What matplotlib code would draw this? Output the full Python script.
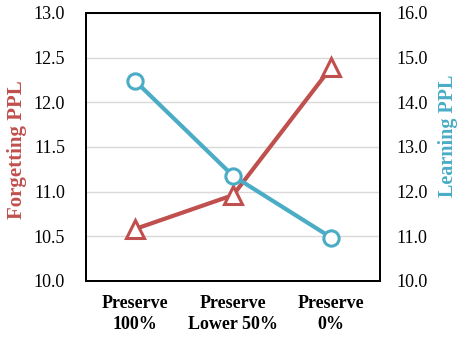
import matplotlib
matplotlib.use("Agg")
import matplotlib.pyplot as plt

plt.rcParams['font.family'] = ['Liberation Serif', 'DejaVu Serif']

# 三种保留策略下的困惑度
categories = ['Preserve\n100%', 'Preserve\nLower 50%', 'Preserve\n0%']
forget_ppl = [10.58, 10.96, 12.39]
learn_ppl = [14.48, 12.35, 10.97]

red = '#C0504D'
blue = '#4BACC6'

fig = plt.figure(figsize=(4.57, 3.38), dpi=100)
ax = fig.add_axes([0.188, 0.169, 0.644, 0.793])
x = range(len(categories))

ax.plot(x, forget_ppl, color=red, lw=3, marker='^', ms=13, mfc='white',
        mec=red, mew=2.2, zorder=3)
ax.set_ylim(10, 13)
ax.set_yticks([10.0, 10.5, 11.0, 11.5, 12.0, 12.5, 13.0])
ax.set_yticklabels(['%.1f' % v for v in ax.get_yticks()])
ax.set_xlim(-0.5, 2.5)
ax.set_xticks(list(x))
ax.set_xticklabels(categories, fontweight='bold', fontsize=13, linespacing=1.3)
ax.yaxis.grid(True, color='#D9D9D9', lw=1)
ax.set_axisbelow(True)
ax.tick_params(axis='both', length=0, labelsize=13)
ax.tick_params(axis='y', pad=15)
ax.tick_params(axis='x', pad=10)
ax.set_ylabel('Forgetting PPL', color=red, fontweight='bold', fontsize=15)
ax.yaxis.set_label_coords(-0.2, 0.49)

ax2 = ax.twinx()
ax2.plot(x, learn_ppl, color=blue, lw=3, marker='o', ms=11, mfc='white',
         mec=blue, mew=2.2, zorder=3)
ax2.set_ylim(10, 16)
ax2.set_yticks([10, 11, 12, 13, 14, 15, 16])
ax2.set_yticklabels(['%.1f' % v for v in ax2.get_yticks()])
ax2.tick_params(axis='y', length=0, labelsize=13, pad=12)
ax2.set_ylabel('Learning PPL', color=blue, fontweight='bold', fontsize=14.5)
ax2.yaxis.set_label_coords(1.197, 0.54)

for a in (ax, ax2):
    for s in a.spines.values():
        s.set_linewidth(1.3)
        s.set_color('black')

fig.savefig('out.png', dpi=100)
